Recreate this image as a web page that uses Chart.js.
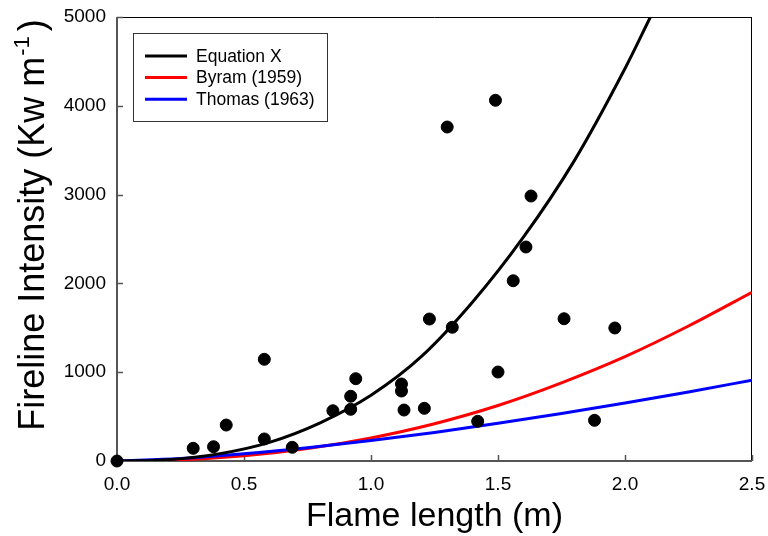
<!DOCTYPE html>
<html>
<head>
<meta charset="utf-8">
<script src="https://cdn.jsdelivr.net/npm/chart.js@4"></script>
<style>
    html, body { margin: 0; padding: 0; background: #ffffff; }
    #wrap { width: 768px; height: 536px; }
</style>
</head>
<body>
<div id="wrap"><canvas id="myChart" width="768" height="536"></canvas></div>
<script>
// ------------- data -------------

// observed fires
const flameLength = [0, 0.30, 0.38, 0.43, 0.58, 0.58, 0.69, 0.85, 0.92, 0.92, 0.94, 1.12, 1.12, 1.13,
    1.21, 1.23, 1.30, 1.32, 1.42, 1.49, 1.50, 1.56, 1.61, 1.63, 1.76, 1.88, 1.96];
const firelineIntensity = [0, 143, 161, 405, 1145, 248, 154, 566, 729, 582, 927, 788, 867, 574,
    593, 1599, 3761, 1506, 447, 4062, 1002, 2030, 2410, 2984, 1602, 458, 1498];

// Equation X curve
const eqLength = [0, 0.2, 0.4, 0.6, 0.8, 1.0, 1.2, 1.4, 1.6, 1.8, 2.0, 2.1];
const eqIntensity = [0, 15, 80, 210, 430, 740, 1180, 1790, 2520, 3380, 4420, 5000];

// Byram (1959) and Thomas (1963) curves
const refLength = [0, 0.25, 0.5, 0.75, 1.0, 1.25, 1.5, 1.75, 2.0, 2.25, 2.5];
const byramIntensity = [0, 13, 58, 140, 260, 420, 625, 880, 1175, 1520, 1900];
const thomasIntensity = [0, 29, 82, 150, 231, 322, 424, 534, 652, 778, 910];

const xTicks = [0, 0.5, 1.0, 1.5, 2.0, 2.5];
const yTicks = [0, 1000, 2000, 3000, 4000, 5000];

const FONT = 'Liberation Sans, Arial, Helvetica, sans-serif';

function toPoints(xs, ys) {
    return xs.map((x, i) => ({ x: x, y: ys[i] }));
}

// no extra room for overhanging tick labels
function noOverhang(s) {
    s.paddingLeft = 0;
    s.paddingRight = 0;
    s.paddingTop = 0;
    s.paddingBottom = 0;
}

// frame with inward tick marks
const framePlugin = {
    id: 'frame',
    beforeDatasetsDraw(chart) {
        const { ctx, chartArea: a, scales } = chart;
        ctx.save();
        ctx.lineWidth = 1;
        ctx.strokeStyle = '#000000';
        ctx.beginPath();
        ctx.moveTo(a.left, a.top + 0.5);
        ctx.lineTo(a.right, a.top + 0.5);
        ctx.moveTo(a.right - 0.5, a.top);
        ctx.lineTo(a.right - 0.5, a.bottom);
        ctx.stroke();

        ctx.lineWidth = 2;
        ctx.strokeStyle = '#555555';
        ctx.beginPath();
        ctx.moveTo(a.left, a.top);
        ctx.lineTo(a.left, a.bottom);
        ctx.lineTo(a.right, a.bottom);
        ctx.stroke();

        ctx.lineWidth = 1.5;
        ctx.beginPath();
        yTicks.forEach(v => {
            const py = Math.round(scales.y.getPixelForValue(v)) + 0.5;
            ctx.moveTo(a.left, py);
            ctx.lineTo(a.left + 6, py);
        });
        xTicks.forEach(v => {
            const px = Math.round(scales.x.getPixelForValue(v)) + 0.5;
            ctx.moveTo(px, a.bottom);
            ctx.lineTo(px, a.bottom - 6);
        });
        ctx.stroke();
        ctx.restore();
    }
};

// y axis title with superscript
const yTitlePlugin = {
    id: 'yTitle',
    afterDraw(chart) {
        const ctx = chart.ctx;
        const main = 'Fireline Intensity (Kw m';
        const sup = '-1';
        const end = ')';
        ctx.save();
        ctx.fillStyle = '#000000';
        ctx.textBaseline = 'alphabetic';
        ctx.font = '36px ' + FONT;
        const w1 = ctx.measureText(main).width;
        const w3 = ctx.measureText(end).width;
        ctx.font = '22px ' + FONT;
        const w2 = ctx.measureText(sup).width;
        const total = w1 + w2 + 6 + w3;
        ctx.translate(44, 225);
        ctx.rotate(-Math.PI / 2);
        let x = -total / 2;
        ctx.font = '36px ' + FONT;
        ctx.fillText(main, x, 0);
        x += w1 + 1;
        ctx.font = '22px ' + FONT;
        ctx.fillText(sup, x, -15);
        x += w2 + 5;
        ctx.font = '36px ' + FONT;
        ctx.fillText(end, x, 0);
        ctx.restore();
    }
};

// boxed legend inside the plot
const legendPlugin = {
    id: 'boxLegend',
    afterDraw(chart) {
        const ctx = chart.ctx;
        const items = chart.data.datasets.filter(d => d.showLine);
        ctx.save();
        ctx.lineWidth = 1;
        ctx.strokeStyle = '#333333';
        ctx.strokeRect(133.5, 33.5, 194, 88);
        ctx.font = '17.5px ' + FONT;
        ctx.textBaseline = 'middle';
        ctx.fillStyle = '#000000';
        items.forEach((d, i) => {
            const y = 56 + i * 21.6;
            ctx.strokeStyle = d.borderColor;
            ctx.lineWidth = 3;
            ctx.beginPath();
            ctx.moveTo(145, y);
            ctx.lineTo(187, y);
            ctx.stroke();
            ctx.fillText(d.label, 196, y + 1);
        });
        ctx.restore();
    }
};

const data = {
    datasets: [
        {
            label: 'Observed',
            data: toPoints(flameLength, firelineIntensity),
            backgroundColor: '#000000',
            borderColor: '#000000',
            pointRadius: 6,
            showLine: false,
            clip: false,
            order: 0
        },
        {
            label: 'Equation X',
            data: toPoints(eqLength, eqIntensity),
            borderColor: '#000000',
            borderWidth: 3,
            pointRadius: 0,
            showLine: true,
            cubicInterpolationMode: 'monotone',
            order: 1
        },
        {
            label: 'Byram (1959)',
            data: toPoints(refLength, byramIntensity),
            borderColor: '#ff0000',
            borderWidth: 3,
            pointRadius: 0,
            showLine: true,
            cubicInterpolationMode: 'monotone',
            order: 3
        },
        {
            label: 'Thomas (1963)',
            data: toPoints(refLength, thomasIntensity),
            borderColor: '#0000ff',
            borderWidth: 3,
            pointRadius: 0,
            showLine: true,
            cubicInterpolationMode: 'monotone',
            order: 2
        }
    ]
};

const ctx = document.getElementById('myChart').getContext('2d');

const myChart = new Chart(ctx, {
    type: 'scatter',
    data: data,
    plugins: [framePlugin, yTitlePlugin, legendPlugin],
    options: {
        responsive: false,
        animation: false,
        layout: { padding: { top: 17, right: 16, bottom: 0, left: 0 } },
        plugins: {
            legend: { display: false },
            tooltip: { enabled: false }
        },
        scales: {
            x: {
                type: 'linear',
                min: 0,
                max: 2.5,
                afterFit: s => { s.height = 75; noOverhang(s); },
                afterBuildTicks: s => { s.ticks = xTicks.map(v => ({ value: v })); },
                grid: { display: false, drawTicks: false },
                border: { display: false },
                ticks: {
                    color: '#000000',
                    padding: 12,
                    font: { family: FONT, size: 19 },
                    callback: v => Number(v).toFixed(1)
                },
                title: {
                    display: true,
                    text: 'Flame length (m)',
                    color: '#000000',
                    font: { family: FONT, size: 34, lineHeight: 1.0 },
                    padding: { top: 0, bottom: 2 }
                }
            },
            y: {
                type: 'linear',
                min: 0,
                max: 5000,
                afterFit: s => { s.width = 117; noOverhang(s); },
                afterBuildTicks: s => { s.ticks = yTicks.map(v => ({ value: v })); },
                grid: { display: false, drawTicks: false },
                border: { display: false },
                ticks: {
                    color: '#000000',
                    padding: 11,
                    font: { family: FONT, size: 19 },
                    callback: v => String(v)
                }
            }
        }
    }
});
</script>
</body>
</html>
